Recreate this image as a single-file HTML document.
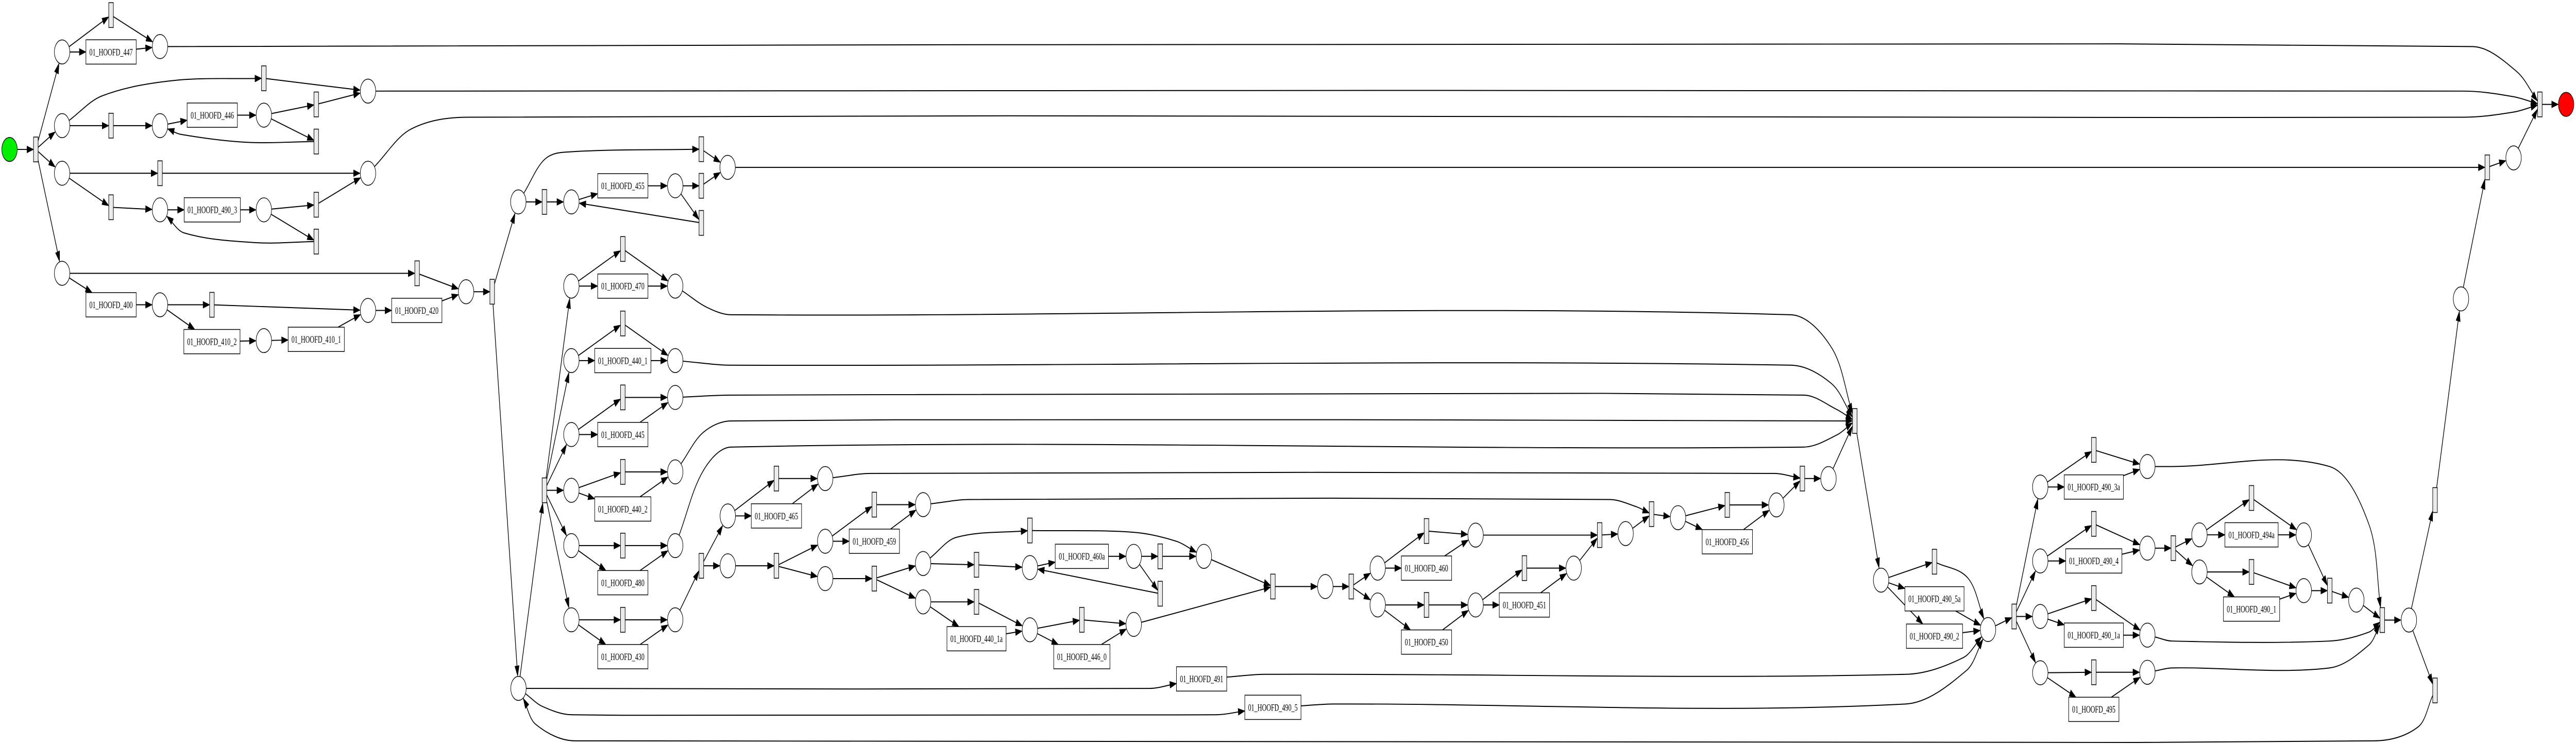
<!DOCTYPE html>
<html><head><meta charset="utf-8"><style>
html,body{margin:0;padding:0;background:#fff;overflow:hidden;width:100vw;height:100vh;}
svg{display:block;width:100vw;height:100vh;}
text{font-family:"Liberation Serif",serif;font-size:3.8px;text-anchor:middle;fill:#000;}
</style></head><body>
<svg id="s" xmlns="http://www.w3.org/2000/svg" viewBox="0 0 1568 290.73" preserveAspectRatio="none">
<rect x="0" y="0" width="1568" height="290.73" fill="#fff"/>
<g id="edges"></g>
<g id="nodes"></g>
<g id="labels">
<text x="67.6" y="21.6">01_HOOFD_447</text>
<text x="129.2" y="46.3">01_HOOFD_446</text>
<text x="129.2" y="83.3">01_HOOFD_490_3</text>
<text x="67.6" y="120.4">01_HOOFD_400</text>
<text x="129" y="134.8">01_HOOFD_410_2</text>
<text x="192.5" y="133.9">01_HOOFD_410_1</text>
<text x="253.7" y="122.6">01_HOOFD_420</text>
<text x="379.1" y="73.9">01_HOOFD_455</text>
<text x="379.1" y="113.1">01_HOOFD_470</text>
<text x="379.1" y="142.2">01_HOOFD_440_1</text>
<text x="379.1" y="171.1">01_HOOFD_445</text>
<text x="379.1" y="200.2">01_HOOFD_440_2</text>
<text x="379.1" y="229">01_HOOFD_480</text>
<text x="379.1" y="257.9">01_HOOFD_430</text>
<text x="472.6" y="202.9">01_HOOFD_465</text>
<text x="532.2" y="212.8">01_HOOFD_459</text>
<text x="658.5" y="218.7">01_HOOFD_460a</text>
<text x="594.4" y="250.9">01_HOOFD_440_1a</text>
<text x="658.5" y="257.9">01_HOOFD_446_0</text>
<text x="731.4" y="266.6">01_HOOFD_491</text>
<text x="774.8" y="277.7">01_HOOFD_490_5</text>
<text x="868.3" y="223.3">01_HOOFD_460</text>
<text x="868.3" y="252.2">01_HOOFD_450</text>
<text x="927.9" y="237.7">01_HOOFD_451</text>
<text x="1051.4" y="213">01_HOOFD_456</text>
<text x="1177.5" y="235.3">01_HOOFD_490_5a</text>
<text x="1177.5" y="249.9">01_HOOFD_490_2</text>
<text x="1274.5" y="191.6">01_HOOFD_490_3a</text>
<text x="1274.5" y="220.5">01_HOOFD_490_4</text>
<text x="1370.5" y="210.3">01_HOOFD_494a</text>
<text x="1370.5" y="239.3">01_HOOFD_490_1</text>
<text x="1274.5" y="249.5">01_HOOFD_490_1a</text>
<text x="1274.5" y="278.5">01_HOOFD_495</text>
</g>
</svg>
<script>
const N={
start:['S',5.8,58.4],t0:['T',21.8,58.4],
pa:['P',37.8,20.3],ta1:['T',67.6,5.9],b447:['B',67.6,20.3,12],pa2:['P',97.4,18.2],
pb:['P',37.8,49.1],tb1:['T',160.6,30.6],pb2:['P',224,35.6],tb2:['T',67.6,49.1],pb3:['P',97.4,49.1],b446:['B',129.2,45,12],pb4:['P',160.6,45],tb3:['T',192.5,40.8],tb4:['T',192.5,55.3],
pc:['P',37.8,67.7],tc1:['T',97.4,67.7],pc2:['P',224,67.7],tc2:['T',67.6,81],pc3:['P',97.4,82],b4903:['B',129.2,82,14],pc4:['P',160.6,82],tc3:['T',192.5,80],tc4:['T',192.5,94.4],
pd:['P',37.8,106.8],td1:['T',253.9,106.8],b400:['B',67.6,119.1,12],pd2:['P',97.4,119.1],td2:['T',129,119.1],b4102:['B',129,133.5,14],pd3:['P',160.6,133.1],b4101:['B',192.5,132.6,14],pd4:['P',224,121.3],b420:['B',253.7,121.3,12],pd5:['P',283.7,114],td3:['T',299.6,114],
pe:['P',315.5,78.9],te1:['T',331.4,78.9],pe2:['P',347.8,78.9],b455:['B',379.1,72.6,12],pe3:['P',411,72.6],te0:['T',426.9,58.3],te2:['T',426.9,72.6],te3:['T',426.9,87.1],pe4:['P',442.9,65.4],
pf:['P',315.6,269],hub:['T',331.4,191.6],
q1:['P',347.8,111.8],r1:['T',379.1,97.3],b470:['B',379.1,111.8,12],s1:['P',411,111.8],
q2:['P',347.8,140.9],r2:['T',379.1,126.4],b4401:['B',379.1,140.9,14],s2:['P',411,140.9],
q3:['P',347.8,169.8],r3:['T',379.1,155.3],b445:['B',379.1,169.8,12],s3:['P',411,155.3],
q4:['P',347.8,191.6],r4:['T',379.1,184.4],b4402:['B',379.1,198.9,14],s4:['P',411,184.4],
q5:['P',347.8,213.2],r5:['T',379.1,213.2],b480:['B',379.1,227.7,12],s5:['P',411,213.2],
q6:['P',347.8,242.2],r6:['T',379.1,242.2],b430:['B',379.1,256.6,12],s6:['P',411,242.2],
u0:['T',426.9,221.1],u1:['P',443,201.6],u2:['P',443,221.1],
v1:['T',472.6,187],b465:['B',472.6,201.6,12],v2:['P',502.3,187],
v3:['T',472.6,221.1],w1:['P',502.3,211.5],w2:['P',502.3,226.1],
x1:['T',532.2,197.2],b459:['B',532.2,211.5,12],x2:['P',561.9,197.2],
x3:['T',532.2,226.1],y1:['P',561.9,220.2],y2:['P',561.9,235.2],
z1:['T',626.9,207.3],z2:['T',594.4,220.7],z3:['P',626.9,221.8],b460a:['B',658.5,217.4,13],z4:['P',690.1,217.4],z5:['T',706.2,217.4],z6:['T',706.2,232],z7:['P',732.8,217.4],
k1:['T',594.4,235.2],b4401a:['B',594.4,249.6,15],k2:['P',626.9,246.1],k3:['T',658.5,242.2],b4460:['B',658.5,256.6,14],k4:['P',690.1,244],
m1:['T',774.8,229.2],m2:['P',806.7,229.2],m3:['T',822.5,229.2],m4:['P',838.6,222],m5:['P',838.6,236.4],
n1:['T',868.3,207.5],b460:['B',868.3,222,12],n2:['P',898.2,209.1],
n3:['T',868.3,236.4],b450:['B',868.3,250.9,12],n4:['P',898.2,236.4],
n5:['T',927.9,222],b451:['B',927.9,236.4,12],n6:['P',957.9,222],
o1:['T',973.7,209.1],o2:['P',989.5,208.5],o3:['T',1005.3,200.9],o4:['P',1021.4,202.3],o5:['T',1051.4,197.3],b456:['B',1051.4,211.7,12],o6:['P',1081.3,197.3],o7:['T',1097.1,187],o8:['P',1113,187],
J:['T',1129,164.5],
g1:['P',1145,226.7],g2:['T',1177.5,219.5],b4905a:['B',1177.5,234,15],b4902:['B',1177.5,248.6,14],g3:['P',1210.1,246],
b491:['B',731.4,265.3,12],b4905:['B',774.8,276.4,14],
h0:['T',1226,240.9],
h1:['P',1241.9,190.3],i1:['T',1274.5,175.8],b4903a:['B',1274.5,190.3,15],i2:['P',1307.1,182.3],
h2:['P',1241.9,219.2],i3:['T',1274.5,204.7],b4904:['B',1274.5,219.2,14],i4:['P',1307.1,214.2],i5:['T',1322.9,214.2],
j1:['P',1338.8,209],j2:['T',1370.5,194.6],b494a:['B',1370.5,209,13],j3:['P',1402.3,209],
j4:['P',1338.8,223.5],j5:['T',1370.5,223.5],b4901:['B',1370.5,238,14],j6:['P',1402.3,230.8],j7:['T',1418.1,230.8],j8:['P',1434.3,234.5],
h3:['P',1241.9,240.9],i6:['T',1274.5,233.7],b4901a:['B',1274.5,248.2,15],i7:['P',1307.1,248.2],
h4:['P',1241.9,262.9],i8:['T',1274.5,262.7],b495:['B',1274.5,277.2,12],i9:['P',1307.1,262.7],
T2:['T',1450.1,242.3],l1:['P',1466.3,242.3],l2:['T',1482.2,195.4],l3:['T',1482.2,269.8],l4:['P',1498,116.8],l5:['T',1514,65.4],l6:['P',1530,61.7],TF:['T',1546,40.8],end:['E',1562,40.8]
};
const E=[];
function e(f,t,p){E.push([f,t,p||[]]);}
function chain(s){const a=s.split(' ');for(let i=0;i<a.length-1;i++)e(a[i],a[i+1]);}
e('start','t0');['pa','pb','pc','pd'].forEach(x=>e('t0',x));
chain('pa ta1 pa2');chain('pa b447 pa2');
e('pa2','TF',[[1505,18.2],[1532,28]]);
e('pb','tb1',[[62,37.5],[105,31.5]]);e('tb1','pb2');
chain('pb tb2 pb3 b446 pb4 tb3 pb2');e('pb4','tb4');e('tb4','pb3',[[150,55.6],[110,52.5]]);
e('pb2','TF',[[1500,35.6],[1530,37.8]]);
chain('pc tc1 pc2');chain('pc tc2 pc3 b4903 pc4 tc3 pc2');e('pc4','tc4');e('tc4','pc3',[[155,94.8],[112,91]]);
e('pc2','TF',[[250,50.5],[285,45.8],[1500,45.8],[1530,43.8]]);
chain('pd td1 pd5');chain('pd b400 pd2 td2 pd4');chain('pd2 b4102 pd3 b4101 pd4 b420 pd5 td3 pe');e('td3','pf');
chain('pe te1 pe2 b455 pe3 te2 pe4');e('pe3','te3');e('te3','pe2');
e('pe','te0',[[332,62],[348,59.3]]);e('te0','pe4');
e('pe4','l5');
e('pf','hub');
for(let i=1;i<=6;i++){e('hub','q'+i);}
chain('q1 r1 s1');chain('q1 b470 s1');
chain('q2 r2 s2');chain('q2 b4401 s2');
chain('q3 r3 s3');chain('q3 b445 s3');
chain('q4 r4 s4');chain('q4 b4402 s4');
chain('q5 r5 s5');chain('q5 b480 s5');
chain('q6 r6 s6');chain('q6 b430 s6');
e('s1','J',[[430,120],[445,123],[1090,123],[1115,136]]);
e('s2','J',[[445,142.7],[1090,142.7],[1115,150]]);
e('s3','J',[[445,154.4],[1098,154.4],[1118,160]]);
e('s4','J',[[428,169],[445,164.5]]);
e('s5','J',[[428,184],[445,174.7],[1098,174.7],[1118,170]]);
e('s6','u0');e('u0','u1');e('u0','u2');
chain('u1 v1 v2');chain('u1 b465 v2');
e('v2','o7',[[530,185],[1080,185]]);
chain('u2 v3 w1');e('v3','w2');
chain('w1 x1 x2');chain('w1 b459 x2');
e('x2','o3',[[590,195.2],[980,195.2],[996,198]]);
chain('w2 x3 y1');e('x3','y2');
e('y1','z1',[[582,210]]);e('z1','z7',[[690,208],[716,211.5]]);
chain('y1 z2 z3 b460a z4 z5 z7');e('z4','z6');e('z6','z3');
chain('y2 k1 k2 k3 k4 m1');chain('y2 b4401a k2 b4460 k4');e('z7','m1');
chain('m1 m2 m3 m4');e('m3','m5');
chain('m4 n1 n2 o1');chain('m4 b460 n2');
chain('m5 n3 n4 n5 n6 o1');chain('m5 b450 n4 b451 n6');
chain('o1 o2 o3 o4 o5 o6 o7 o8 J');chain('o4 b456 o6');
e('J','g1');e('g1','g2');e('g2','g3',[[1198,226]]);chain('g1 b4905a g3');chain('g1 b4902 g3');
e('pf','b491',[[335,269],[700,269]]);
e('b491','g3',[[770,263.5],[1160,263.5],[1195,257]]);
e('pf','b4905',[[330,276],[348,279.3],[740,279.3]]);
e('b4905','g3',[[812,275.1],[1160,275.1],[1197,262]]);
e('l3','pf',[[1472,284],[1445,289.5],[350,289.5],[326,283]]);
e('g3','h0');['h1','h2','h3','h4'].forEach(x=>e('h0',x));
chain('h1 i1 i2');chain('h1 b4903a i2');
e('i2','T2',[[1322,182.3],[1418,182.3],[1442,205]]);
chain('h2 i3 i4 i5 j1 j2 j3 j7');chain('h2 b4904 i4');e('i5','j4');chain('j1 b494a j3');
chain('j4 j5 j6 j7 j8 T2');chain('j4 b4901 j6');
chain('h3 i6 i7');chain('h3 b4901a i7');
e('i7','T2',[[1322,250.5],[1418,250.5],[1442,247]]);
chain('h4 i8 i9');chain('h4 b495 i9');
e('i9','T2',[[1322,261],[1418,261],[1442,252]]);
chain('T2 l1 l2 l4 l5 l6 TF end');e('l1','l3');

function dims(id){const d=N[id];const t=d[0];if(t==='T')return[1.4,4.85];if(t==='B')return[(1.8*d[3]+9)/2,4.75];return null;}
function bnd(id,dx,dy){const d=N[id];const x=d[1],y=d[2];const L=Math.hypot(dx,dy)||1;const m=dims(id);
 if(!m)return[x+4.8*dx/L,y+4.8*dy/L];
 const s=Math.min(m[0]/Math.max(Math.abs(dx),1e-9),m[1]/Math.max(Math.abs(dy),1e-9));return[x+dx*s,y+dy*s];}
const NS='http://www.w3.org/2000/svg';
const ge=document.getElementById('edges'),gn=document.getElementById('nodes');
function el(tag,a,par){const o=document.createElementNS(NS,tag);for(const k in a)o.setAttribute(k,a[k]);par.appendChild(o);return o;}
const f=v=>v.toFixed(2);
function nrm(x,y){const L=Math.hypot(x,y)||1;return[x/L,y/L];}
E.forEach(([a,b,p])=>{
 const A=N[a],B=N[b];
 const first=p.length?p[0]:[B[1],B[2]];const last=p.length?p[p.length-1]:[A[1],A[2]];
 const s=bnd(a,first[0]-A[1],first[1]-A[2]);const t=bnd(b,last[0]-B[1],last[1]-B[2]);
 const Q=[s,...p,t];let d='M'+f(s[0])+' '+f(s[1]);let prev;
 if(Q.length===2){prev=s;}
 else{for(let i=0;i<Q.length-1;i++){const p0=Q[Math.max(i-1,0)],p1=Q[i],p2=Q[i+1],p3=Q[Math.min(i+2,Q.length-1)];
   const seg=Math.hypot(p2[0]-p1[0],p2[1]-p1[1])/3;
   const t1=nrm(p2[0]-p0[0],p2[1]-p0[1]),t2=nrm(p3[0]-p1[0],p3[1]-p1[1]);
   const c1=[p1[0]+t1[0]*seg,p1[1]+t1[1]*seg],c2=[p2[0]-t2[0]*seg,p2[1]-t2[1]*seg];
   if(i===Q.length-2){prev=c2;}
   d+=' C'+f(c1[0])+' '+f(c1[1])+' '+f(c2[0])+' '+f(c2[1])+' '+f(p2[0])+' '+f(p2[1]);}}
 let ux=t[0]-prev[0],uy=t[1]-prev[1];const L=Math.hypot(ux,uy)||1;ux/=L;uy/=L;
 if(Q.length===2){const e2=[t[0]-3*ux,t[1]-3*uy];d='M'+f(s[0])+' '+f(s[1])+' L'+f(e2[0])+' '+f(e2[1]);}
 el('path',{d:d,fill:'none',stroke:'#000','stroke-width':0.4},ge);
 const bx=t[0]-4*ux,by=t[1]-4*uy,px=-uy*1.3,py=ux*1.3;
 el('polygon',{points:f(t[0])+','+f(t[1])+' '+f(bx+px)+','+f(by+py)+' '+f(bx-px)+','+f(by-py),fill:'#000',stroke:'#000','stroke-width':0.2},ge);
});
for(const id in N){const d=N[id];const t=d[0];
 if(t==='P'||t==='S'||t==='E'){el('circle',{cx:d[1],cy:d[2],r:4.7,fill:t==='S'?'#00ee00':(t==='E'?'#ff0000':'#fff'),stroke:'#000','stroke-width':0.3},gn);}
 else{const m=dims(id);el('rect',{x:f(d[1]-m[0]),y:f(d[2]-m[1]),width:f(2*m[0]),height:f(2*m[1]),fill:t==='T'?'#ebebeb':'#fff',stroke:'#000','stroke-width':0.3},gn);}
}
</script>
</body></html>
